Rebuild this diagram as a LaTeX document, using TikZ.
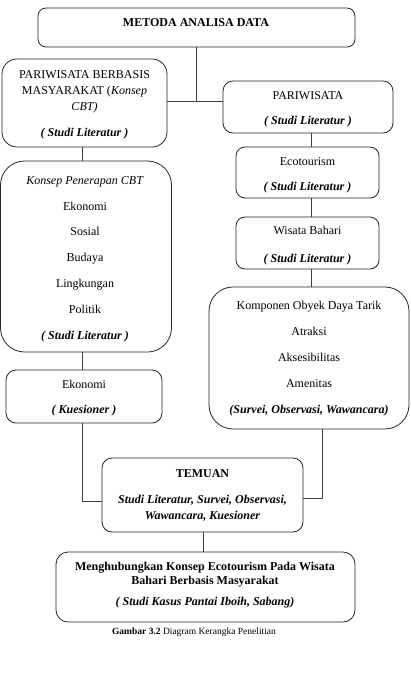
\documentclass[tikz,border=0pt]{standalone}
\usepackage{fontspec}
\setmainfont{Liberation Serif}
\begin{document}
\begin{tikzpicture}[x=1pt,y=-1pt,
  box/.style={draw=black!85, line width=0.8pt, inner sep=0pt, minimum width=#1},
  txt/.style={anchor=base, inner sep=0pt, font=\fontsize{12}{14}\selectfont},
  captxt/.style={anchor=base, inner sep=0pt, font=\fontsize{9.5}{11}\selectfont},
  link/.style={draw=black!75, line width=0.8pt}]
\useasboundingbox (0,0) rectangle (410,694);
% boxes
\node[box=317pt, minimum height=39pt, rounded corners=8pt] (met) at (196.5,27.5) {};
\node[box=165pt, minimum height=88pt, rounded corners=15pt] (pwb) at (84.5,103) {};
\node[box=170pt, minimum height=52pt, rounded corners=10pt] (par) at (308,107) {};
\node[box=143pt, minimum height=51pt, rounded corners=9pt] (eco) at (307.5,172.5) {};
\node[box=143pt, minimum height=52pt, rounded corners=9pt] (wb) at (307.5,243) {};
\node[box=200pt, minimum height=142pt, rounded corners=24pt] (komp) at (309,358) {};
\node[box=171pt, minimum height=191pt, rounded corners=24pt] (kcbt) at (86,256.5) {};
\node[box=156pt, minimum height=53pt, rounded corners=10pt] (eko) at (84,396.5) {};
\node[box=201pt, minimum height=74pt, rounded corners=10pt] (tem) at (202.5,495) {};
\node[box=299pt, minimum height=70pt, rounded corners=12pt] (fin) at (205.5,587) {};
% helper coordinates
\coordinate (j) at (196,101);
\coordinate (lx) at (82,0);
\coordinate (rx) at (311,0);
\coordinate (ly) at (0,501);
\coordinate (kx) at (322,0);
\coordinate (ry) at (0,498);
\coordinate (tx) at (203,0);
% connectors
\draw[link] (met.south -| j) -- (j);
\draw[link] (pwb.east |- j) -- (par.west |- j);
\draw[link] (pwb.south -| lx) -- (kcbt.north -| lx);
\draw[link] (kcbt.south -| lx) -- (eko.north -| lx);
\draw[link] (par.south -| rx) -- (eco.north -| rx);
\draw[link] (eco.south -| rx) -- (wb.north -| rx);
\draw[link] (wb.south -| rx) -- (komp.north -| rx);
\draw[link] (eko.south -| lx) |- (tem.west |- ly);
\draw[link] (komp.south -| kx) |- (tem.east |- ry);
\draw[link] (tem.south -| tx) -- (fin.north -| tx);
% texts
\node[txt] (t1) at (196,26) {\textbf{METODA ANALISA DATA}};
\node[txt] (t2) at (84.5,78) {PARIWISATA BERBASIS};
\node[txt] (t3) at (84.5,94) {MASYARAKAT (\textit{Konsep}};
\node[txt] (t4) at (84.5,110) {\textit{CBT)}};
\node[txt] (t5) at (84.5,136) {\textbf{\textit{( Studi Literatur )}}};
\node[txt] (t6) at (308,99) {PARIWISATA};
\node[txt] (t7) at (308,124.5) {\textbf{\textit{( Studi Literatur )}}};
\node[txt] (t8) at (307.5,165) {Ecotourism};
\node[txt] (t9) at (307.5,190) {\textbf{\textit{( Studi Literatur )}}};
\node[txt] (t10) at (307.5,234) {Wisata Bahari};
\node[txt] (t11) at (307.5,262) {\textbf{\textit{( Studi Literatur )}}};
\node[txt] (t12) at (85,184) {\textit{Konsep Penerapan CBT}};
\node[txt] (t13) at (85,210) {Ekonomi};
\node[txt] (t14) at (85,235.7) {Sosial};
\node[txt] (t15) at (85,261.3) {Budaya};
\node[txt] (t16) at (85,287.3) {Lingkungan};
\node[txt] (t17) at (85,313.3) {Politik};
\node[txt] (t18) at (85,339) {\textbf{\textit{( Studi Literatur )}}};
\node[txt] (t19) at (309,309) {Komponen Obyek Daya Tarik};
\node[txt] (t20) at (309,335.7) {Atraksi};
\node[txt] (t21) at (309,361.7) {Aksesibilitas};
\node[txt] (t22) at (309,387.3) {Amenitas};
\node[txt] (t23) at (309,413.3) {\textbf{\textit{(Survei, Observasi, Wawancara)}}};
\node[txt] (t24) at (84,388) {Ekonomi};
\node[txt] (t25) at (84,413.3) {\textbf{\textit{( Kuesioner )}}};
\node[txt] (t26) at (202.5,477) {\textbf{TEMUAN}};
\node[txt] (t27) at (202.5,503.3) {\textbf{\textit{Studi Literatur, Survei, Observasi,}}};
\node[txt] (t28) at (202.5,519) {\textbf{\textit{Wawancara, Kuesioner}}};
\node[txt] (t29) at (205,570) {\textbf{Menghubungkan Konsep Ecotourism Pada Wisata}};
\node[txt] (t30) at (205,584) {\textbf{Bahari Berbasis Masyarakat}};
\node[txt] (t31) at (205,605.7) {\textbf{\textit{( Studi Kasus Pantai Iboih, Sabang)}}};
\node[captxt] (t32) at (194,634) {\textbf{Gambar 3.2} Diagram Kerangka Penelitian};
\end{tikzpicture}
\end{document}
